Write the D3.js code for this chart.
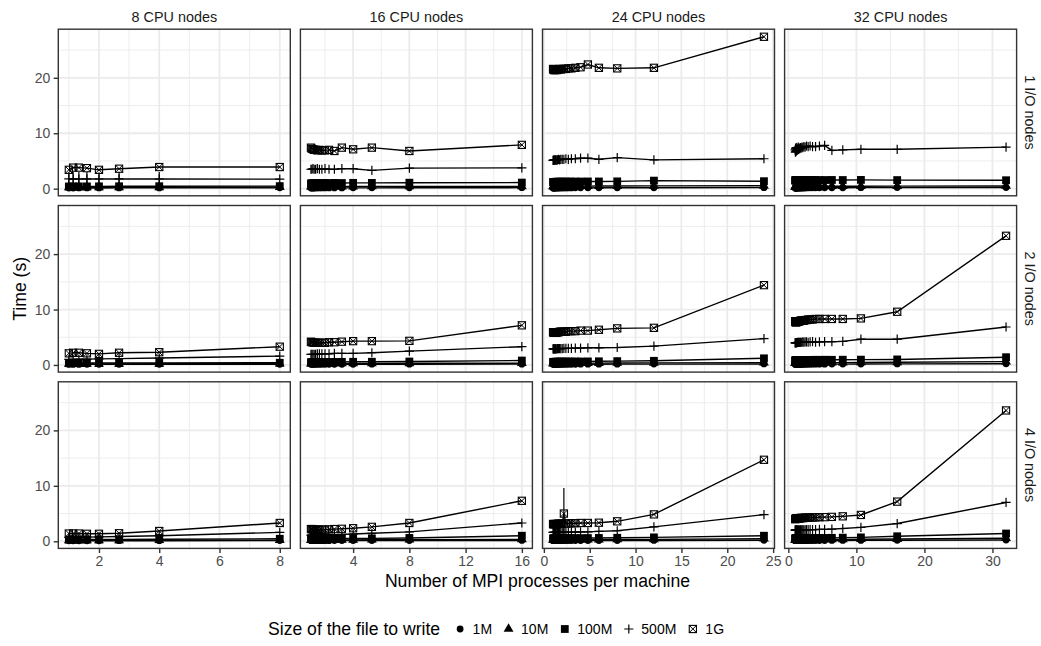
<!DOCTYPE html>
<html><head><meta charset="utf-8">
<script src="https://cdn.jsdelivr.net/npm/d3@7"></script>
<style>body{margin:0;background:#fff} svg{display:block} text{font-family:"Liberation Sans",Arial,Helvetica,sans-serif}</style>
</head><body><svg id="chart" width="1041" height="646"></svg>
<script>
// ---------------- DATA ----------------
const cpuNodes = [8, 16, 24, 32];
const ioNodes = [1, 2, 4];
const sizes = ["1M", "10M", "100M", "500M", "1G"];
const cpuLabels = ["8 CPU nodes", "16 CPU nodes", "24 CPU nodes", "32 CPU nodes"];
const ioLabels = ["1 I/O nodes", "2 I/O nodes", "4 I/O nodes"];
const xTicks8 = [2, 4, 6, 8];
const xTicks16 = [4, 8, 12, 16];
const xTicks24 = [0, 5, 10, 15, 20, 25];
const xTicks32 = [0, 10, 20, 30];
const yTicks = [0, 10, 20];
const xTitle = "Number of MPI processes per machine";
const yTitle = "Time (s)";
const legendTitle = "Size of the file to write";

// MPI processes per machine (x values) for each CPU node count
const procs8 = [1, 1.143, 1.333, 1.6, 2, 2.667, 4, 8];
const procs16 = [1, 1.067, 1.143, 1.231, 1.333, 1.455, 1.6, 1.778, 2, 2.286, 2.667, 3.2, 4, 5.333, 8, 16];
const procs24 = [1, 1.043, 1.091, 1.143, 1.2, 1.263, 1.333, 1.412, 1.5, 1.6, 1.714, 1.846, 2, 2.182, 2.4, 2.667, 3, 3.429, 4, 4.8, 6, 8, 12, 24];
const procs32 = [1, 1.032, 1.067, 1.103, 1.143, 1.185, 1.231, 1.28, 1.333, 1.391, 1.455, 1.524, 1.6, 1.684, 1.778, 1.882, 2, 2.133, 2.286, 2.462, 2.667, 2.909, 3.2, 3.556, 4, 4.571, 5.333, 6.4, 8, 10.667, 16, 32];

// Times (s): rows = 1M, 10M, 100M, 500M, 1G
const io1cpu8 = [
  [0.12,0.12,0.13,0.13,0.13,0.14,0.14,0.15],
  [0.22,0.22,0.22,0.23,0.23,0.24,0.25,0.27],
  [0.40,0.40,0.41,0.41,0.42,0.43,0.44,0.46],
  [1.75,1.75,1.74,1.75,1.74,1.75,1.74,1.72],
  [3.4,3.8,3.8,3.7,3.4,3.6,3.9,3.9]
];
const io1cpu16 = [
  [0.12,0.12,0.12,0.12,0.13,0.13,0.13,0.13,0.13,0.14,0.14,0.14,0.15,0.15,0.16,0.18],
  [0.35,0.34,0.35,0.35,0.36,0.35,0.36,0.36,0.37,0.36,0.37,0.38,0.38,0.39,0.40,0.42],
  [0.95,0.96,0.98,1.00,0.97,1.00,1.02,1.00,1.03,1.01,1.04,1.02,1.05,1.04,1.08,1.10],
  [3.5,3.5,3.6,3.5,3.5,3.6,3.5,3.5,3.6,3.5,3.5,3.6,3.6,3.3,3.7,3.75],
  [7.4,7.2,7.1,7.0,7.0,6.9,7.0,6.9,6.9,7.0,6.8,7.4,7.1,7.4,6.8,7.9]
];
const io1cpu24 = [
  [0.12,0.12,0.12,0.12,0.12,0.13,0.13,0.13,0.13,0.13,0.13,0.13,0.14,0.14,0.14,0.14,0.14,0.15,0.15,0.15,0.16,0.16,0.17,0.18],
  [0.40,0.40,0.41,0.40,0.41,0.41,0.42,0.41,0.42,0.42,0.43,0.42,0.43,0.43,0.44,0.44,0.45,0.45,0.46,0.46,0.47,0.48,0.50,0.52],
  [1.20,1.21,1.22,1.20,1.23,1.22,1.24,1.23,1.25,1.24,1.25,1.24,1.26,1.25,1.27,1.26,1.28,1.27,1.29,1.30,1.30,1.32,1.45,1.35],
  [5.1,5.1,5.2,5.1,5.2,5.2,5.1,5.2,5.2,5.3,5.2,5.3,5.3,5.3,5.4,5.3,5.4,5.4,5.5,5.5,5.3,5.6,5.2,5.4],
  [21.6,21.5,21.4,21.4,21.5,21.4,21.5,21.4,21.5,21.5,21.6,21.5,21.6,21.6,21.6,21.7,21.7,21.8,21.9,22.4,21.8,21.7,21.8,27.4]
];
const io1cpu32 = [
  [0.12,0.12,0.12,0.12,0.12,0.12,0.13,0.13,0.13,0.13,0.13,0.13,0.13,0.13,0.14,0.14,0.14,0.14,0.14,0.14,0.15,0.15,0.15,0.15,0.16,0.16,0.16,0.17,0.17,0.18,0.19,0.20],
  [0.36,0.36,0.37,0.36,0.37,0.37,0.38,0.37,0.38,0.38,0.38,0.39,0.38,0.39,0.39,0.40,0.39,0.40,0.40,0.41,0.40,0.41,0.41,0.42,0.42,0.43,0.43,0.44,0.44,0.45,0.46,0.48],
  [1.48,1.50,1.49,1.51,1.50,1.52,1.50,1.51,1.53,1.50,1.52,1.51,1.53,1.52,1.54,1.52,1.53,1.54,1.52,1.55,1.54,1.53,1.55,1.54,1.56,1.55,1.56,1.57,1.56,1.58,1.55,1.52],
  [7.0,6.6,7.3,6.7,7.2,6.8,7.4,6.9,7.2,7.0,7.5,7.1,7.3,7.2,7.4,7.3,7.5,7.4,7.6,7.5,7.7,7.6,7.7,7.6,7.6,7.7,7.8,6.9,7.0,7.1,7.1,7.5],
  []
];
const io2cpu8 = [
  [0.10,0.10,0.10,0.11,0.11,0.11,0.12,0.13],
  [0.18,0.18,0.19,0.19,0.20,0.20,0.21,0.23],
  [0.33,0.34,0.34,0.35,0.35,0.36,0.37,0.40],
  [1.0,1.0,1.05,1.05,1.1,1.15,1.25,1.6],
  [2.1,2.2,2.2,2.1,2.0,2.2,2.3,3.3]
];
const io2cpu16 = [
  [0.11,0.11,0.11,0.11,0.12,0.12,0.12,0.12,0.12,0.13,0.13,0.13,0.13,0.14,0.14,0.15],
  [0.25,0.25,0.25,0.26,0.26,0.26,0.26,0.27,0.27,0.27,0.28,0.28,0.29,0.29,0.30,0.32],
  [0.50,0.50,0.51,0.51,0.52,0.52,0.52,0.53,0.53,0.54,0.55,0.56,0.57,0.58,0.62,0.80],
  [1.9,1.9,1.9,1.9,1.9,2.0,2.0,2.0,2.0,2.0,2.1,2.1,2.1,2.2,2.5,3.3],
  [4.2,4.1,4.1,4.0,4.0,4.0,4.0,4.0,4.0,4.1,4.1,4.2,4.3,4.3,4.35,7.15]
];
const io2cpu24 = [
  [0.11,0.11,0.11,0.11,0.11,0.12,0.12,0.12,0.12,0.12,0.12,0.12,0.13,0.13,0.13,0.13,0.13,0.13,0.14,0.14,0.14,0.15,0.16,0.18],
  [0.28,0.28,0.28,0.29,0.29,0.29,0.29,0.30,0.30,0.30,0.30,0.31,0.31,0.31,0.31,0.32,0.32,0.32,0.33,0.33,0.34,0.35,0.37,0.42],
  [0.55,0.55,0.56,0.56,0.56,0.57,0.57,0.57,0.58,0.58,0.58,0.59,0.59,0.60,0.60,0.61,0.61,0.62,0.63,0.64,0.66,0.69,0.75,1.20],
  [2.9,2.9,2.9,2.9,2.9,2.9,2.9,2.9,2.95,2.95,2.95,2.95,2.95,3.0,3.0,3.0,3.0,3.05,3.05,3.1,3.1,3.15,3.4,4.75],
  [5.9,5.9,5.8,5.8,5.8,5.8,5.9,5.9,5.9,5.9,6.0,6.0,6.0,6.0,6.0,6.1,6.1,6.1,6.2,6.2,6.35,6.6,6.7,14.4]
];
const io2cpu32 = [
  [0.12,0.12,0.12,0.12,0.12,0.12,0.12,0.12,0.13,0.13,0.13,0.13,0.13,0.13,0.13,0.13,0.13,0.14,0.14,0.14,0.14,0.14,0.14,0.15,0.15,0.15,0.15,0.16,0.16,0.17,0.19,0.22],
  [0.32,0.32,0.33,0.32,0.33,0.33,0.33,0.34,0.33,0.34,0.34,0.34,0.35,0.34,0.35,0.35,0.35,0.36,0.36,0.36,0.37,0.37,0.37,0.38,0.38,0.39,0.40,0.41,0.42,0.44,0.48,0.60],
  [0.80,0.82,0.81,0.83,0.82,0.84,0.83,0.85,0.84,0.86,0.85,0.87,0.86,0.88,0.87,0.89,0.88,0.90,0.89,0.90,0.91,0.90,0.92,0.91,0.93,0.92,0.94,0.93,0.95,0.96,1.00,1.40],
  [4.0,4.0,4.05,4.0,4.05,4.05,4.0,4.05,4.05,4.1,4.05,4.1,4.1,4.05,4.1,4.1,4.1,4.15,4.1,4.15,4.15,4.1,4.15,4.2,4.1,4.15,4.2,4.2,4.25,4.65,4.65,6.85],
  [7.9,7.8,7.7,7.8,7.7,7.7,7.8,7.8,7.8,7.8,7.9,7.9,7.9,7.9,8.0,8.0,8.0,8.0,8.0,8.1,8.1,8.2,8.2,8.2,8.3,8.3,8.3,8.3,8.3,8.4,9.6,23.3]
];
const io4cpu8 = [
  [0.08,0.08,0.09,0.09,0.09,0.10,0.10,0.12],
  [0.15,0.15,0.16,0.16,0.16,0.17,0.18,0.20],
  [0.30,0.30,0.31,0.32,0.33,0.34,0.37,0.45],
  [0.7,0.7,0.75,0.75,0.8,0.85,1.0,1.6],
  [1.4,1.4,1.4,1.35,1.35,1.45,1.85,3.3]
];
const io4cpu16 = [
  [0.10,0.10,0.10,0.10,0.10,0.11,0.11,0.11,0.11,0.11,0.12,0.12,0.12,0.13,0.13,0.15],
  [0.22,0.22,0.22,0.23,0.23,0.23,0.23,0.24,0.24,0.24,0.25,0.25,0.26,0.27,0.29,0.35],
  [0.45,0.45,0.46,0.46,0.46,0.47,0.47,0.47,0.48,0.48,0.49,0.50,0.51,0.53,0.60,1.00],
  [1.1,1.1,1.1,1.1,1.1,1.15,1.15,1.15,1.15,1.2,1.2,1.25,1.3,1.45,1.7,3.3],
  [2.2,2.2,2.1,2.1,2.1,2.1,2.1,2.1,2.1,2.15,2.2,2.25,2.35,2.6,3.3,7.3]
];
const io4cpu24 = [
  [0.10,0.10,0.10,0.10,0.10,0.10,0.11,0.11,0.11,0.11,0.11,0.11,0.11,0.12,0.12,0.12,0.12,0.12,0.13,0.13,0.13,0.14,0.15,0.18],
  [0.24,0.24,0.24,0.24,0.25,0.25,0.25,0.25,0.25,0.26,0.26,0.26,0.26,0.27,0.27,0.27,0.28,0.28,0.29,0.29,0.30,0.32,0.35,0.45],
  [0.50,0.50,0.50,0.51,0.51,0.51,0.52,0.52,0.52,0.52,0.53,0.53,0.53,0.54,0.54,0.55,0.55,0.56,0.57,0.58,0.60,0.63,0.70,1.00],
  [1.6,1.6,1.6,1.6,1.6,1.6,1.6,1.6,1.6,1.6,1.62,1.62,1.62,1.63,1.63,1.64,1.65,1.66,1.68,1.7,1.78,1.9,2.6,4.8],
  [3.1,3.1,3.1,3.1,3.1,3.1,3.1,3.1,3.15,3.15,3.15,3.15,3.2,5.0,3.2,3.2,3.25,3.25,3.3,3.3,3.35,3.6,4.85,14.7]
];
const io4cpu32 = [
  [0.10,0.10,0.10,0.10,0.10,0.10,0.10,0.11,0.11,0.11,0.11,0.11,0.11,0.11,0.11,0.12,0.12,0.12,0.12,0.12,0.12,0.13,0.13,0.13,0.13,0.14,0.14,0.15,0.15,0.16,0.18,0.22],
  [0.25,0.25,0.25,0.25,0.26,0.26,0.26,0.26,0.26,0.27,0.27,0.27,0.27,0.27,0.28,0.28,0.28,0.28,0.29,0.29,0.29,0.30,0.30,0.30,0.31,0.31,0.32,0.33,0.34,0.36,0.40,0.55],
  [0.50,0.50,0.50,0.51,0.51,0.51,0.51,0.52,0.52,0.52,0.52,0.53,0.53,0.53,0.53,0.54,0.54,0.54,0.55,0.55,0.55,0.56,0.56,0.57,0.58,0.59,0.60,0.62,0.65,0.70,0.90,1.40],
  [2.0,2.0,2.0,2.0,2.0,2.0,2.0,2.0,2.0,2.0,2.0,2.0,2.0,2.0,2.05,2.05,2.05,2.05,2.05,2.05,2.1,2.1,2.1,2.1,2.1,2.15,2.15,2.2,2.3,2.5,3.2,7.0],
  [4.0,4.0,4.05,4.05,4.05,4.1,4.1,4.1,4.1,4.1,4.15,4.15,4.15,4.15,4.2,4.2,4.2,4.2,4.2,4.25,4.25,4.25,4.3,4.3,4.3,4.35,4.35,4.4,4.5,4.75,7.15,23.6]
];

// Error bars: [ioIndex, cpuIndex, size, x, low, high]
const errorBars = [
  [0, 0, "500M", 1, 0.2, 3.0],
  [0, 0, "500M", 1.143, 0.2, 3.0],
  [0, 0, "500M", 1.333, 0.2, 3.0],
  [0, 0, "500M", 1.6, 0.2, 3.0],
  [0, 0, "500M", 2, 0.2, 2.9],
  [0, 0, "500M", 2.667, 0.2, 3.0],
  [0, 0, "500M", 4, 0.4, 3.0],
  [2, 2, "1G", 2.182, 0.4, 9.6]
];

// ---------------- LAYOUT ----------------
const procsByCol = [procs8, procs16, procs24, procs32];
const ticksByCol = [xTicks8, xTicks16, xTicks24, xTicks32];
const panelData = [
  [io1cpu8, io1cpu16, io1cpu24, io1cpu32],
  [io2cpu8, io2cpu16, io2cpu24, io2cpu32],
  [io4cpu8, io4cpu16, io4cpu24, io4cpu32]
];

const svg = d3.select("#chart");
svg.append("rect").attr("width", 1041).attr("height", 646).attr("fill", "#fff");

const pLeft = 58.3, pW = 232, gapX = 10.1;
const pTop = 29.2, pH = 166.6, gapY = 9.7;
const gridCol = "#EBEBEB", darkCol = "#333333", textGrey = "#4D4D4D";
const tickFont = 14, titleFont = 17.6, stripFont = 14.4;

// y extent shared
const allY = [];
panelData.forEach(row => row.forEach(p => p.forEach(s => s.forEach(v => allY.push(v)))));
errorBars.forEach(e => { allY.push(e[4]); allY.push(e[5]); });
const yExt = d3.extent(allY);
const yPad = 0.05 * (yExt[1] - yExt[0]);

function minorBreaks(ticks, dom) {
  const step = ticks[1] - ticks[0];
  const ext = [ticks[0] - step].concat(ticks, [ticks[ticks.length - 1] + step]);
  const out = [];
  for (let i = 0; i < ext.length - 1; i++) {
    const m = (ext[i] + ext[i + 1]) / 2;
    if (m >= dom[0] && m <= dom[1]) out.push(m);
  }
  return out;
}

function drawMarker(g, size) {
  if (size === "1M") {
    g.append("circle").attr("r", 3.4).attr("fill", "#000");
  } else if (size === "10M") {
    g.append("path").attr("d", d3.symbol().type(d3.symbolTriangle).size(42)()).attr("fill", "#000");
  } else if (size === "100M") {
    g.append("rect").attr("x", -3.9).attr("y", -3.9).attr("width", 7.8).attr("height", 7.8).attr("fill", "#000");
  } else if (size === "500M") {
    g.append("path").attr("d", "M-4.6,0H4.6M0,-4.6V4.6").attr("stroke", "#000").attr("stroke-width", 1.2).attr("fill", "none");
  } else {
    g.append("rect").attr("x", -3.6).attr("y", -3.6).attr("width", 7.2).attr("height", 7.2)
      .attr("fill", "none").attr("stroke", "#000").attr("stroke-width", 1.1);
    g.append("path").attr("d", "M-3.6,-3.6L3.6,3.6M-3.6,3.6L3.6,-3.6").attr("stroke", "#000").attr("stroke-width", 1.0);
  }
}

const defs = svg.append("defs");

ioNodes.forEach((io, r) => {
  cpuNodes.forEach((cpu, c) => {
    const px = pLeft + c * (pW + gapX);
    const py = pTop + r * (pH + gapY);
    const procs = procsByCol[c];
    const xr = d3.extent(procs);
    const xPad = 0.05 * (xr[1] - xr[0]);
    const xDom = [xr[0] - xPad, xr[1] + xPad];
    const x = d3.scaleLinear().domain(xDom).range([px, px + pW]);
    const yDom = [yExt[0] - yPad, yExt[1] + yPad];
    const y = d3.scaleLinear().domain(yDom).range([py + pH, py]);

    const clipId = "clip" + r + "_" + c;
    defs.append("clipPath").attr("id", clipId).append("rect")
      .attr("x", px).attr("y", py).attr("width", pW).attr("height", pH);

    const g = svg.append("g");
    const xMinor = minorBreaks(ticksByCol[c], xDom);
    const yMinor = minorBreaks(yTicks, yDom);
    g.selectAll(".xmin").data(xMinor).join("line")
      .attr("x1", d => x(d)).attr("x2", d => x(d)).attr("y1", py).attr("y2", py + pH)
      .attr("stroke", gridCol).attr("stroke-width", 0.9);
    g.selectAll(".ymin").data(yMinor).join("line")
      .attr("y1", d => y(d)).attr("y2", d => y(d)).attr("x1", px).attr("x2", px + pW)
      .attr("stroke", gridCol).attr("stroke-width", 0.9);
    const xMaj = ticksByCol[c].filter(t => t >= xDom[0] && t <= xDom[1]);
    g.selectAll(".xmaj").data(xMaj).join("line")
      .attr("x1", d => x(d)).attr("x2", d => x(d)).attr("y1", py).attr("y2", py + pH)
      .attr("stroke", gridCol).attr("stroke-width", 1.8);
    g.selectAll(".ymaj").data(yTicks).join("line")
      .attr("y1", d => y(d)).attr("y2", d => y(d)).attr("x1", px).attr("x2", px + pW)
      .attr("stroke", gridCol).attr("stroke-width", 1.8);

    const plot = g.append("g").attr("clip-path", "url(#" + clipId + ")");
    const series = panelData[r][c];
    const line = d3.line().x(d => x(d[0])).y(d => y(d[1]));
    const eb = errorBars.filter(e => e[0] === r && e[1] === c);
    plot.selectAll(".eb").data(eb).join("line")
      .attr("x1", d => x(d[3])).attr("x2", d => x(d[3]))
      .attr("y1", d => y(d[4])).attr("y2", d => y(d[5]))
      .attr("stroke", "#000").attr("stroke-width", 1.2);
    sizes.forEach((sz, si) => {
      const vals = series[si];
      if (!vals || !vals.length) return;
      const pts = vals.map((v, i) => [procs[i], v]);
      plot.append("path").datum(pts).attr("d", line)
        .attr("fill", "none").attr("stroke", "#000").attr("stroke-width", 1.4);
    });
    sizes.forEach((sz, si) => {
      const vals = series[si];
      if (!vals || !vals.length) return;
      const pts = vals.map((v, i) => [procs[i], v]);
      plot.selectAll(".pt" + si).data(pts).join("g")
        .attr("transform", d => `translate(${x(d[0])},${y(d[1])})`)
        .each(function () { drawMarker(d3.select(this), sz); });
    });

    g.append("rect").attr("x", px).attr("y", py).attr("width", pW).attr("height", pH)
      .attr("fill", "none").attr("stroke", darkCol).attr("stroke-width", 1.4);

    if (r === ioNodes.length - 1) {
      const ax = g.append("g").attr("transform", `translate(0,${py + pH})`)
        .call(d3.axisBottom(x).tickValues(xMaj).tickSize(4.6).tickPadding(3.4).tickFormat(d3.format("d")));
      ax.select(".domain").remove();
      ax.selectAll("line").attr("stroke", darkCol).attr("stroke-width", 1.4);
      ax.selectAll("text").attr("fill", textGrey).style("font-size", tickFont + "px").attr("font-family", null);
    }
    if (c === 0) {
      const ay = g.append("g").attr("transform", `translate(${px},0)`)
        .call(d3.axisLeft(y).tickValues(yTicks).tickSize(4.6).tickPadding(3.4).tickFormat(d3.format("d")));
      ay.select(".domain").remove();
      ay.selectAll("line").attr("stroke", darkCol).attr("stroke-width", 1.4);
      ay.selectAll("text").attr("fill", textGrey).style("font-size", tickFont + "px").attr("font-family", null);
    }
    if (r === 0) {
      svg.append("text").attr("x", px + pW / 2).attr("y", 21.6).attr("text-anchor", "middle")
        .attr("fill", "#1A1A1A").style("font-size", stripFont + "px").text(cpuLabels[c]);
    }
    if (c === cpuNodes.length - 1) {
      svg.append("text").attr("transform", `translate(${px + pW + 8.2},${py + pH / 2}) rotate(90)`)
        .attr("text-anchor", "middle").attr("fill", "#1A1A1A").style("font-size", stripFont + "px").text(ioLabels[r]);
    }
  });
});

const totalW = 4 * pW + 3 * gapX;
svg.append("text").attr("x", pLeft + totalW / 2).attr("y", 587).attr("text-anchor", "middle")
  .style("font-size", titleFont + "px").attr("fill", "#000").text(xTitle);
const totalH = 3 * pH + 2 * gapY;
svg.append("text").attr("transform", `translate(26,${pTop + totalH / 2}) rotate(-90)`)
  .attr("text-anchor", "middle").style("font-size", titleFont + "px").attr("fill", "#000").text(yTitle);

// legend
const leg = svg.append("g");
const legT = leg.append("text").attr("x", 268).attr("y", 635).style("font-size", titleFont + "px").attr("fill", "#000").text(legendTitle);
let lx = 268 + legT.node().getComputedTextLength() + 20;
sizes.forEach(sz => {
  const mg = leg.append("g").attr("transform", `translate(${lx},629)`);
  drawMarker(mg, sz);
  const t = leg.append("text").attr("x", lx + 12.5).attr("y", 634).style("font-size", tickFont + "px").attr("fill", "#000").text(sz);
  lx += 12.5 + t.node().getComputedTextLength() + 16.5;
});
</script></body></html>
